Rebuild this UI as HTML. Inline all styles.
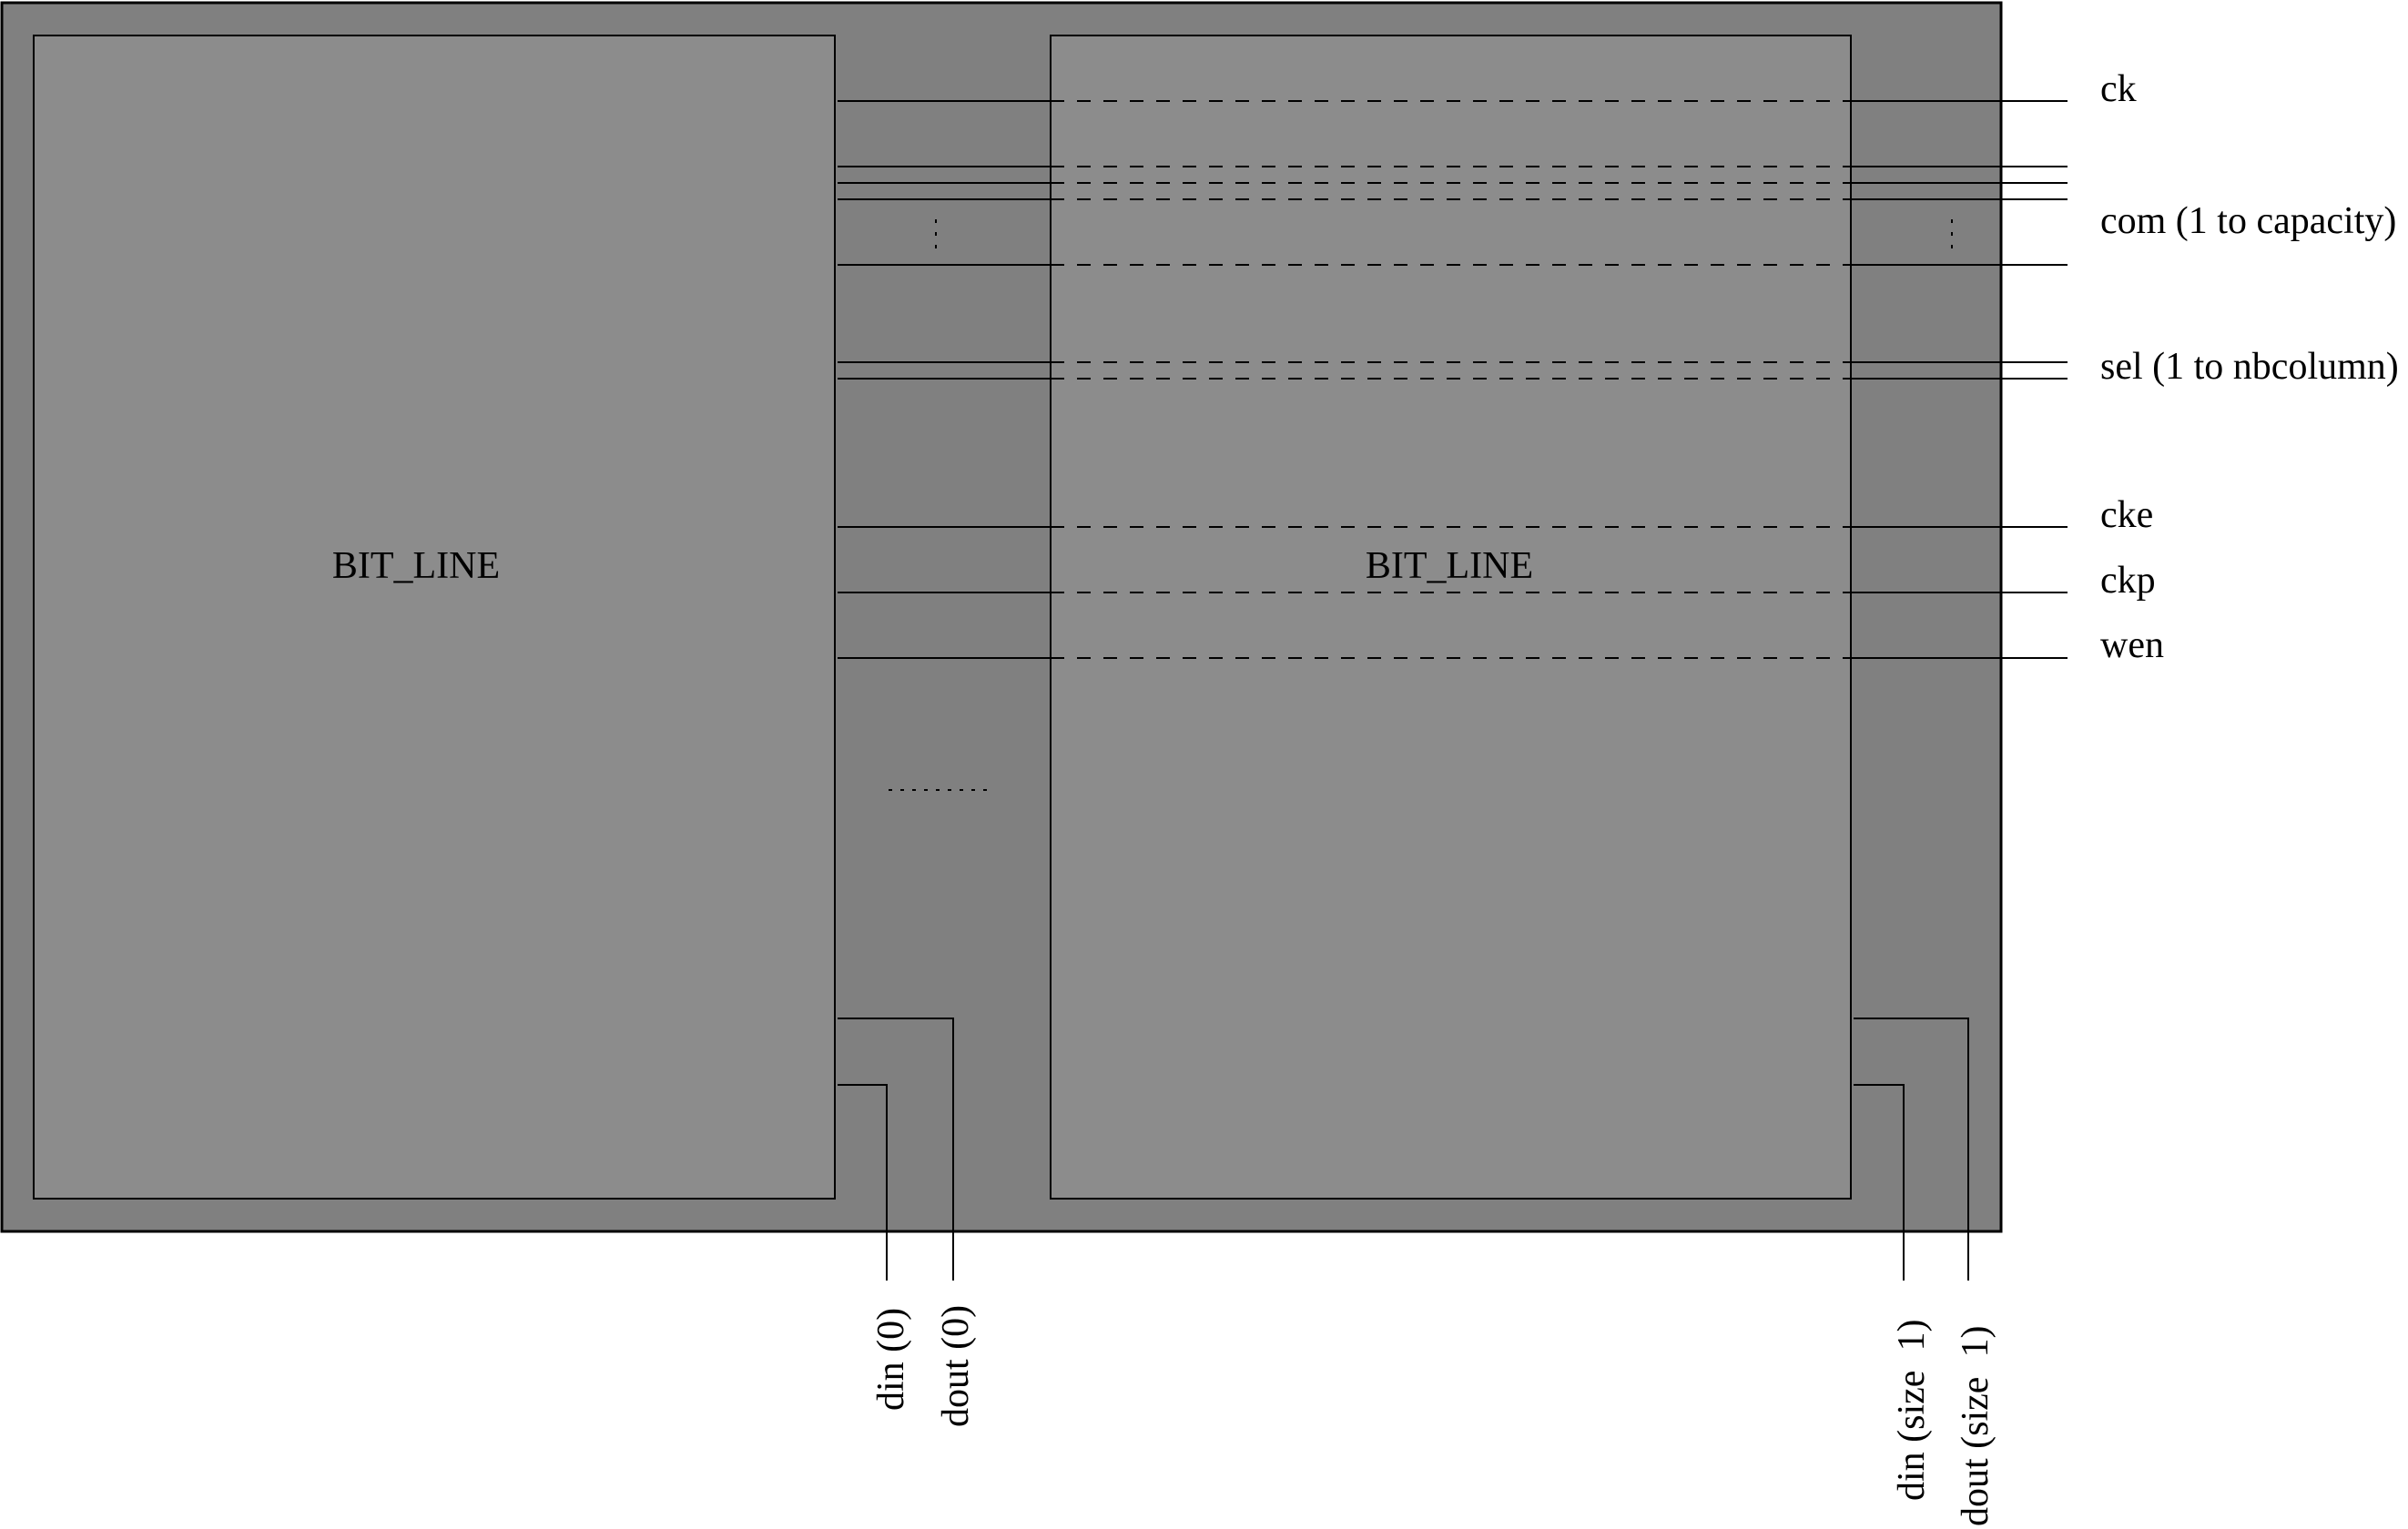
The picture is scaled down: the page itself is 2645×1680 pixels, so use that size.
<!DOCTYPE html>
<html><head><meta charset="utf-8"><style>
html,body{margin:0;padding:0;background:#fff;}
svg{display:block;}
text{font-family:"Liberation Serif",serif;fill:#000;}
</style></head><body>
<svg width="2645" height="1680" viewBox="0 0 2645 1680" xmlns="http://www.w3.org/2000/svg">
  <rect x="2" y="3" width="2196" height="1350" fill="#808080" stroke="#000" stroke-width="3"/>
  <rect x="37" y="39" width="880" height="1278" fill="#8c8c8c" stroke="#000" stroke-width="2"/>
  <rect x="1154" y="39" width="879" height="1278" fill="#8c8c8c" stroke="#000" stroke-width="2"/>
  <text x="457" y="635" font-size="42" text-anchor="middle">BIT_LINE</text>
  <text x="1592" y="635" font-size="42" text-anchor="middle">BIT_LINE</text>
  <g id="wires"></g>
  <line x1="1028" y1="241" x2="1028" y2="275" stroke="#000" stroke-width="2" stroke-dasharray="4,10"/>
  <line x1="2144" y1="241" x2="2144" y2="275" stroke="#000" stroke-width="2" stroke-dasharray="4,10"/>
  <line x1="976" y1="868" x2="1086" y2="868" stroke="#000" stroke-width="2" stroke-dasharray="4,9"/>
  <text x="2307" y="111" font-size="42">ck</text>
  <text x="2307" y="256" font-size="42">com (1 to capacity)</text>
  <text x="2307" y="416" font-size="42">sel (1 to nbcolumn)</text>
  <text x="2307" y="579" font-size="42">cke</text>
  <text x="2307" y="651" font-size="42">ckp</text>
  <text x="2307" y="722" font-size="42">wen</text>
  <g fill="none" stroke="#000" stroke-width="2">
    <polyline points="920,1119 1047,1119 1047,1407"/>
    <polyline points="920,1192 974,1192 974,1407"/>
    <polyline points="2036,1119 2162,1119 2162,1407"/>
    <polyline points="2036,1192 2091,1192 2091,1407"/>
  </g>
  <text font-size="42" transform="translate(992,1550) rotate(-90)">din (0)</text>
  <text font-size="42" transform="translate(1063,1568) rotate(-90)">dout (0)</text>
  <text font-size="42" transform="translate(2113,1649) rotate(-90)" xml:space="preserve">din (size  1)</text>
  <text font-size="42" transform="translate(2183,1677) rotate(-90)" xml:space="preserve">dout (size  1)</text>
</svg>
<script>
const wireYs = [111, 183, 201, 219, 291, 398, 416, 579, 651, 723];
const wireNames = ['ck','com-1','com-2','com-3','com-n','sel-1','sel-n','cke','ckp','wen'];
const NS = 'http://www.w3.org/2000/svg';
const g = document.getElementById('wires');
function seg(x1, x2, y, dashed) {
  const l = document.createElementNS(NS, 'line');
  l.setAttribute('x1', x1); l.setAttribute('x2', x2);
  l.setAttribute('y1', y); l.setAttribute('y2', y);
  l.setAttribute('stroke', '#000'); l.setAttribute('stroke-width', '2');
  if (dashed) { l.setAttribute('stroke-dasharray', '15,14'); l.setAttribute('stroke-dashoffset', '-14'); }
  return l;
}
wireYs.forEach((y, i) => {
  const grp = document.createElementNS(NS, 'g');
  
  
  grp.appendChild(seg(920, 1169, y, false));
  grp.appendChild(seg(1169, 2033, y, true));
  grp.appendChild(seg(2033, 2271, y, false));
  g.appendChild(grp);
});
</script>
</body></html>
